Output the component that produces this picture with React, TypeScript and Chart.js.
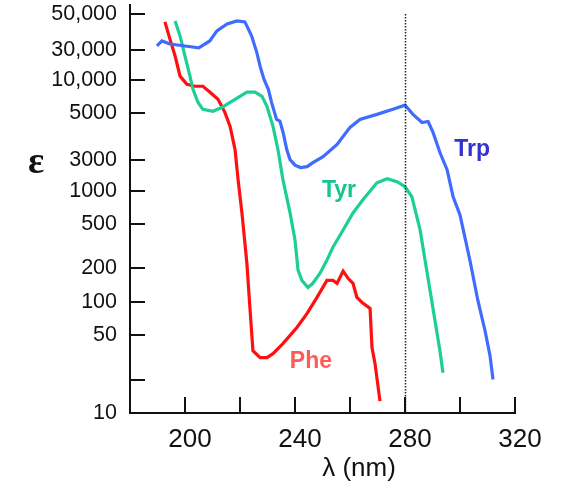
import React, { useEffect, useRef } from "react";
import { Chart, registerables } from "chart.js";

Chart.register(...registerables);

// ---- data ----
const trpNm = [189.8, 191.6, 194.5, 200, 205, 209, 211.6, 215.3, 218.9, 221.8, 224.2, 226.1, 227.3, 228.7, 230.3, 231.5, 233.3, 234.5, 235.7, 237, 238.2, 240, 242, 244.4, 246.5, 250.2, 255.3, 260, 263.6, 269.8, 275.6, 280, 282.9, 286.2, 288.4, 290.2, 292.7, 295.3, 297.5, 300, 303.6, 306.5, 309.1, 310.9, 312];
const trpEps = [20100, 22300, 20950, 20100, 19300, 22300, 27500, 31800, 33800, 33100, 24800, 17620, 13250, 10110, 8200, 6220, 4390, 4240, 3330, 2350, 1909, 1700, 1620, 1650, 1792, 2030, 2610, 3720, 4390, 4870, 5410, 5900, 4870, 4120, 4200, 3350, 2210, 1549, 883, 607, 237, 103, 55, 33, 20];

const tyrNm = [196.4, 198.2, 200, 201.8, 202.9, 204.7, 206.5, 210.2, 213.5, 216.4, 220, 222.5, 225.5, 228, 229.8, 232, 233.8, 235.6, 238.2, 240, 241.1, 242.5, 244.7, 246.5, 249.1, 251.6, 253.8, 257.5, 261.1, 264.7, 269.8, 273.5, 277.1, 280, 282.5, 285.5, 287.3, 289.1, 290.9, 292.7, 293.8];
const tyrEps = [33800, 24760, 16320, 10760, 8200, 6260, 5410, 5190, 5640, 6260, 7090, 7710, 7710, 7090, 5760, 3800, 2350, 1259, 632, 360, 193, 156, 135, 147, 181, 237, 311, 444, 632, 829, 1181, 1284, 1206, 1087, 883, 444, 237, 127, 68, 36.4, 23];

const pheNm = [192.7, 194.5, 196.4, 198.2, 200.7, 203.6, 206.5, 209.1, 212, 214.5, 216.4, 218.2, 219.3, 220.7, 222.5, 223.6, 224.7, 227.3, 229.8, 232, 235.6, 240.7, 244.4, 248, 251.6, 253.8, 255.3, 256.4, 257.5, 259.3, 261.1, 262.5, 264.4, 267.3, 268, 269.1, 270.9];
const pheEps = [33100, 23270, 16320, 10760, 9100, 8730, 8730, 7710, 6660, 5080, 3800, 2350, 1259, 632, 223, 89, 36.4, 31.5, 31.5, 34.2, 42.1, 58.8, 78.7, 110, 156, 156, 147, 167, 189, 163, 147, 110, 98.9, 87.3, 38.8, 27.8, 12.8];

const yTickValues = [10, 20, 50, 100, 200, 500, 1000, 1900, 5000, 10000, 18500, 39000];
const yTickLabels = ["10", "", "50", "100", "200", "500", "1000", "3000", "5000", "10,000", "30,000", "50,000"];
const xTickValues = [200, 220, 240, 260, 280, 300, 320];
const xTickLabels = ["200", "", "240", "", "280", "", "320"];

const markerNm = 280;
const seriesLabels = [
  { text: "Trp", nm: 304.4, eps: 2350, color: "#3333cc" },
  { text: "Tyr", nm: 256, eps: 1000, color: "#17c48f" },
  { text: "Phe", nm: 245.8, eps: 28.9, color: "#ff5a5a" },
];

const CW = 561;
const CH = 486;

const decor = {
  id: "decor",
  afterDatasetsDraw(chart: any) {
    const { ctx, chartArea, scales } = chart;
    const x = scales.x;
    const y = scales.y;
    ctx.save();
    // dotted marker line
    const px = Math.round(x.getPixelForValue(markerNm)) + 0.5;
    ctx.strokeStyle = "#222";
    ctx.lineWidth = 1.5;
    ctx.setLineDash([1.5, 1.5]);
    ctx.beginPath();
    ctx.moveTo(px, y.getPixelForValue(yTickValues[yTickValues.length - 1]));
    ctx.lineTo(px, chartArea.bottom);
    ctx.stroke();
    ctx.setLineDash([]);

    // inward tick marks
    ctx.strokeStyle = "#111";
    ctx.lineWidth = 2;
    ctx.beginPath();
    yTickValues.forEach((v) => {
      if (v <= 10) return;
      const py = Math.round(y.getPixelForValue(v));
      ctx.moveTo(chartArea.left, py);
      ctx.lineTo(chartArea.left + 15, py);
    });
    xTickValues.forEach((v) => {
      const pxx = Math.round(x.getPixelForValue(v));
      ctx.moveTo(pxx, chartArea.bottom);
      ctx.lineTo(pxx, chartArea.bottom - 16);
    });
    ctx.stroke();

    // series labels
    ctx.textAlign = "center";
    ctx.textBaseline = "middle";
    ctx.font = "bold 23px 'Liberation Sans', Arial, sans-serif";
    seriesLabels.forEach((l) => {
      ctx.fillStyle = l.color;
      ctx.fillText(l.text, x.getPixelForValue(l.nm), y.getPixelForValue(l.eps));
    });

    // axis titles
    ctx.fillStyle = "#111";
    ctx.font = "26px 'Liberation Sans', Arial, sans-serif";
    ctx.fillText("λ (nm)", 359, 469);
    ctx.font = "bold 38px 'Liberation Serif', serif";
    ctx.fillText("ε", 36, 163);
    ctx.restore();
  },
};

export default function App() {
  const ref = useRef<HTMLCanvasElement | null>(null);
  useEffect(() => {
    if (!ref.current) return;
    const mk = (nm: number[], eps: number[]) => nm.map((v, i) => ({ x: v, y: eps[i] }));
    const chart = new Chart(ref.current, {
      type: "line",
      data: {
        datasets: [
          { label: "Trp", data: mk(trpNm, trpEps), borderColor: "#3f6cff", borderWidth: 3.2, pointRadius: 0, tension: 0 },
          { label: "Tyr", data: mk(tyrNm, tyrEps), borderColor: "#1ccf95", borderWidth: 3.2, pointRadius: 0, tension: 0 },
          { label: "Phe", data: mk(pheNm, pheEps), borderColor: "#ff1010", borderWidth: 3.2, pointRadius: 0, tension: 0 },
        ],
      },
      options: {
        responsive: false,
        animation: false,
        layout: { padding: { left: 0, right: 46, top: 5, bottom: 0 } },
        plugins: { legend: { display: false }, tooltip: { enabled: false } },
        scales: {
          x: {
            type: "linear",
            min: 180,
            max: 320,
            afterBuildTicks: (s: any) => {
              s.ticks = xTickValues.map((v) => ({ value: v }));
            },
            afterFit: (s: any) => {
              s.height = CH - 413;
              s.paddingLeft = 0;
              s.paddingRight = 0;
            },
            grid: { drawOnChartArea: false, drawTicks: false },
            border: { display: true, color: "#111", width: 2 },
            ticks: {
              autoSkip: false,
              maxRotation: 0,
              padding: 11,
              labelOffset: 5,
              color: "#111",
              font: { family: "'Liberation Sans', Arial, sans-serif", size: 26 },
              callback: (_v: any, i: number) => xTickLabels[i],
            },
          },
          y: {
            type: "logarithmic",
            min: 10,
            max: 47000,
            afterBuildTicks: (s: any) => {
              s.ticks = yTickValues.map((v) => ({ value: v }));
            },
            afterFit: (s: any) => {
              s.width = 130;
              s.paddingTop = 0;
              s.paddingBottom = 0;
            },
            grid: { drawOnChartArea: false, drawTicks: false },
            border: { display: true, color: "#111", width: 2 },
            ticks: {
              autoSkip: false,
              padding: 13,
              color: "#111",
              font: { family: "'Liberation Sans', Arial, sans-serif", size: 21.5 },
              callback: (_v: any, i: number) => yTickLabels[i],
            },
          },
        },
      },
      plugins: [decor],
    } as any);
    return () => chart.destroy();
  }, []);
  return (
    <div style={{ position: "absolute", left: 0, top: 0, width: CW, height: CH, background: "#fff" }}>
      <canvas ref={ref} width={CW} height={CH} />
    </div>
  );
}
